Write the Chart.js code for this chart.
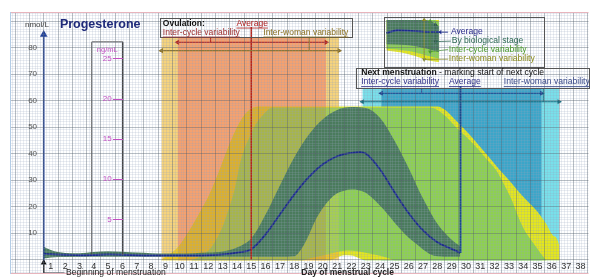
<!DOCTYPE html>
<html>
<head>
<meta charset="utf-8">
<title>Progesterone</title>
<script src="https://cdn.jsdelivr.net/npm/chart.js"></script>
<style>
  html, body { margin: 0; padding: 0; background: #fff; }
  #wrap { width: 593px; height: 279px; position: relative; }
</style>
</head>
<body>
<div id="wrap"><canvas id="chart"></canvas></div>
<script>
// ---- data: x = day of cycle, y = progesterone in nmol/L ----
const days = [];
for (let d = 1; d <= 38; d++) days.push(d);
const nmolTicks = [10, 20, 30, 40, 50, 60, 70, 80];
const ngTicks = [5, 10, 15, 20, 25];
const ngFactor = 3.03;

const average = [[0.5,2.2],[1,2],[2,1.8],[3,1.6],[4,1.7],[5,1.9],[6,1.8],[7,1.6],[8,1.5],[9,1.5],[10,1.5],[11,1.5],[12,1.6],[13,1.9],[14,2.6],[15,3.9],[16,9.5],[17,17],[18,24.5],[19,31],[20,36],[21,39],[22,40.3],[22.6,40.6],[23,40],[24,34],[25,25.5],[26,17.5],[27,11],[28,6.5],[29,4],[29.6,2.5]];

const bioUpper = [[0.5,4.8],[1,3.6],[1.5,2.8],[2,2.5],[3,2.4],[4,2.8],[5,3.1],[6,2.9],[7,2.6],[8,2.4],[9,2.3],[10,2.3],[11,2.4],[12,2.6],[13,3],[14,4.5],[15,8],[16,17],[17,28],[18,38.5],[19,47],[20,53],[21,56.5],[22,57.6],[23,57.2],[24,53.5],[25,45],[26,34.5],[27,23],[28,13.5],[29,7.5],[29.6,5]];
const bioLower = [[0.5,0.4],[1,0.8],[2,0.9],[5,1],[10,1],[14,1],[17,1],[18,1.2],[18.5,4],[19,9],[19.5,15],[20,19.5],[20.5,22.8],[21,25],[21.5,26],[22,26.4],[22.5,26.2],[23,25.2],[23.5,23],[24,20.3],[24.5,17.3],[25,14],[25.5,11],[26,8.2],[26.5,6],[27,3.8],[27.5,2],[28,1.2],[29,1],[29.6,1]];

const cycleUpper = [[10.8,-0.3],[11.3,0.8],[11.7,2],[12.2,4.5],[12.6,8],[13,12.5],[13.3,17],[13.6,22],[13.9,28],[14.2,36],[14.5,41.5],[14.9,46.5],[15.3,51],[15.8,54.5],[16.5,57.4],[27.5,57.4],[28,56.5],[28.6,54],[29.3,50],[30,46.5],[30.9,41.4],[31.5,37.5],[32.1,33.8],[32.7,28],[33.2,22.5],[33.7,15.5],[34.1,11],[34.6,7],[35.2,2.5],[35.6,-0.3]];
const cycleLower = [[10.8,-0.3],[18.5,-0.3],[19,0.3],[20,1.5],[21,2.8],[21.7,3.4],[22.5,3],[23.5,2],[24.5,0.7],[25,-0.3],[35.6,-0.3]];

const womanUpper = [[8.7,-0.3],[9,1],[9.5,2.8],[10,5.5],[10.5,9.5],[11,14],[11.5,18.8],[12,23.8],[12.5,30],[13,37],[13.5,44],[14,50],[14.5,54.5],[15,57],[15.6,57.8],[28,57.8],[28.6,56.3],[29.3,52.5],[30.2,47.5],[31,42.5],[31.6,38.7],[32.3,34.2],[33,30],[33.7,25.5],[34.3,22],[35,18],[35.6,13.5],[36.1,9],[36.5,5.5],[36.55,-0.3]];
const womanLower = [[8.7,-0.3],[20.5,-0.3],[21,0.8],[21.5,1.6],[22,1.5],[22.5,0.6],[23,-0.3],[36.55,-0.3]];

const ovulationAverage = 15.0;
const ovulationCycle = [9.85, 20.23];
const ovulationWoman = [8.72, 21.14];
const mensAverage = 29.62;
const mensCycle = [24.08, 35.29];
const mensWoman = [22.76, 36.5];

// small illustration inside the legend frame
const miniWomanTop = [[24.44,90.5],[28.13,90.5]];
const miniWomanLow = [[24.44,79],[25.5,78.2],[26.5,76.8],[27.3,75.3],[28.13,74.6]];
const miniCycleTop = [[24.44,90.5],[27.8,90.5],[28.13,89.6]];
const miniCycleLow = [[24.44,79.6],[25.5,79.1],[26.5,78.2],[27.3,77],[28.13,75.8]];
const miniBioTop = [[24.44,90.5],[27.1,90.5],[27.7,89.6],[28.13,88]];
const miniBioLow = [[24.44,81.3],[25.5,81.1],[26.5,80.6],[27.3,79.6],[28.13,78.3]];
const miniAverage = [[24.44,85.6],[25.2,86.6],[26,86.5],[27,86.1],[28.13,86]];

// ---- layout ----
const X_MIN = -1.855, X_MAX = 38.56, Y_MIN = -5.48, Y_MAX = 93.5;
const BASE = -0.3;
const OV_TOP = 83.7, MENS_TOP = 64.4;
const FONT = "'Liberation Sans', Arial, sans-serif";
Chart.defaults.font.family = FONT;

const C = {
  yellow: '#e4e71c', lime: '#8ed14f', dark: '#4a7b5c',
  orange: '#f5a16e', light: '#f6d37c', blue: '#3ba6c9', cyan: '#78e0ea',
  navy: '#1b2a8c', red: '#b3261e', olive: '#8a6c1a', teal: '#1b6e80', mensNavy: '#1c3f8a'
};

const pts = a => a.map(([x, y]) => ({x, y}));
function curve(data, extra) {
  return Object.assign({data: pts(data), borderWidth: 0, pointRadius: 0, fill: false,
    cubicInterpolationMode: 'monotone'}, extra || {});
}
function band(range, top, color, blend) {
  return {data: pts([[range[0], top], [range[1], top]]), borderWidth: 0, pointRadius: 0,
    fill: {value: BASE}, backgroundColor: color, blend};
}
function path(data, color, width, heads) {
  const n = data.length;
  const h = heads || {};
  return {data: pts(data), borderColor: color, borderWidth: width, fill: false, tension: 0,
    pointStyle: 'triangle', pointBackgroundColor: color, pointBorderWidth: 0,
    pointRadius: data.map((_, i) => i === 0 ? (h.start || 0) : i === n - 1 ? (h.end || 0) : 0),
    pointRotation: data.map((_, i) => i === 0 ? (h.startRot || 0) : (h.endRot || 0))};
}
const hArrow = (x0, x1, yv, color) => path([[x0, yv], [x1, yv]], color, 1.2, {start: 3, end: 3, startRot: -90, endRot: 90});
const vArrow = (xv, y0, y1, color) => path([[xv, y0], [xv, y1]], color, 1, {start: 2.5, end: 2.5, startRot: 180, endRot: 0});

const layers = [
  curve(womanUpper, {backgroundColor: C.yellow, fill: '+1'}), curve(womanLower),
  band(ovulationWoman, OV_TOP, 'rgba(245,130,30,0.3)', 'source-atop'),
  curve(cycleUpper, {backgroundColor: C.lime, fill: '+1'}), curve(cycleLower),
  band(ovulationWoman, OV_TOP, 'rgba(250,200,80,0.22)', 'source-atop'),
  band(ovulationCycle, OV_TOP, 'rgba(170,100,50,0.24)', 'source-atop'),
  curve(bioUpper, {backgroundColor: C.dark, fill: '+1'}), curve(bioLower),
  band(ovulationCycle, OV_TOP, C.orange, 'destination-over'),
  band(ovulationWoman, OV_TOP, C.light, 'destination-over'),
  band(mensCycle, MENS_TOP, C.blue, 'destination-over'),
  band(mensWoman, MENS_TOP, C.cyan, 'destination-over'),
  // legend illustration
  curve(miniWomanTop, {backgroundColor: C.yellow, fill: '+1'}), curve(miniWomanLow),
  curve(miniCycleTop, {backgroundColor: C.lime, fill: '+1'}), curve(miniCycleLow),
  curve(miniBioTop, {backgroundColor: C.dark, fill: '+1'}), curve(miniBioLow),
  curve(miniAverage, {borderColor: C.navy, borderWidth: 1.8}),
  vArrow(27.08, 75.6, 90.6, '#8a8a1a'),
  vArrow(27.5, 78.5, 90.0, '#4a9a2a'),
  vArrow(27.87, 82.3, 88.8, '#2f5a45'),
  path([[28.75, 85.9], [28.2, 85.9]], C.navy, 1, {end: 2.5, endRot: -90}),
  path([[27.87, 82.3], [28.95, 82.5]], '#2f6a55', 0.8),
  path([[27.5, 78.5], [28.75, 79.3]], '#4a9a2a', 0.8),
  path([[27.08, 75.6], [28.75, 75.7]], '#8a8a1a', 0.8),
  // main lines
  curve(average, {borderColor: C.navy, borderWidth: 1.8}),
  path([[ovulationAverage, 0], [ovulationAverage, 87.8]], C.red, 1.5),
  path([[mensAverage, 2.5], [mensAverage, 65.5]], '#1a4a8c', 2),
  hArrow(ovulationCycle[0], ovulationCycle[1], 82.05, C.red),
  hArrow(ovulationWoman[0], ovulationWoman[1], 78.9, C.olive),
  path([[12.16, 82.05], [12.16, 84.1]], C.red, 1),
  path([[19.05, 78.9], [19.05, 84.1]], C.olive, 1),
  hArrow(mensCycle[0], mensCycle[1], 62.8, C.mensNavy),
  hArrow(mensWoman[0], mensWoman[1], 59.6, C.teal),
  path([[26.9, 62.8], [26.9, 64.8]], C.mensNavy, 1),
  path([[35.4, 59.6], [35.4, 64.8]], C.teal, 1),
  // ng/mL frame, y axis with arrow, menstruation marker
  path([[3.86, 1.8], [3.86, 82.2], [6.02, 82.2], [6.02, 1.8]], '#444', 1),
  path([[0.5, -1], [0.5, 85]], '#1f3f99', 1.6, {end: 4.5}),
  path([[0.5, -1.2], [0.5, -5.1], [1.95, -5.1]], '#111', 0.9, {start: 3.5})
];
layers.forEach((ds, i) => { ds.order = layers.length - i; ds.xAxisID = 'x'; ds.yAxisID = 'y'; });

// ---- annotations ----
const frames = [
  {x0: 8.6, x1: 22.0, y0: 84.1, y1: 91.2},
  {x0: 24.28, x1: 35.43, y0: 72.7, y1: 91.6},
  {x0: 22.35, x1: 38.6, y0: 64.8, y1: 72.3}
];
const notes = [
  {x: -0.81, y: 88.6, size: 8, color: '#444', runs: [{text: 'nmol/L'}]},
  {x: 1.63, y: 88.6, size: 12.5, color: '#1f2a7a', runs: [{text: 'Progesterone', bold: true}]},
  {x: 4.94, y: 79.1, size: 7.5, color: '#c24fc2', align: 'center', runs: [{text: 'ng/mL'}]},
  {x: 8.82, y: 89.2, size: 8.5, color: '#111', runs: [{text: 'Ovulation:', bold: true}]},
  {x: 13.96, y: 89.2, size: 8.5, color: '#b02020', runs: [{text: 'Average', underline: true}]},
  {x: 8.82, y: 85.8, size: 8.5, color: '#a03030', runs: [{text: 'Inter-cycle variability', underline: true}]},
  {x: 15.84, y: 85.8, size: 8.5, color: '#8a7020', runs: [{text: 'Inter-woman variability', underline: true}]},
  {x: 28.95, y: 85.9, size: 8.6, color: '#2a2a8a', runs: [{text: 'Average'}]},
  {x: 29.0, y: 82.5, size: 8.6, color: '#2f6a55', runs: [{text: 'By biological stage'}]},
  {x: 28.8, y: 79.3, size: 8.6, color: '#4a9a2a', runs: [{text: 'Inter-cycle variability'}]},
  {x: 28.8, y: 75.7, size: 8.6, color: '#8a8a1a', runs: [{text: 'Inter-woman variability'}]},
  {x: 22.68, y: 70.5, size: 8.6, color: '#111', runs: [{text: 'Next menstruation', bold: true}, {text: ' - marking start of next cycle'}]},
  {x: 22.68, y: 67.1, size: 8.6, color: '#33338a', runs: [{text: 'Inter-cycle variability', underline: true}]},
  {x: 28.81, y: 67.1, size: 8.6, color: '#33338a', runs: [{text: 'Average', underline: true}]},
  {x: 32.64, y: 67.1, size: 8.6, color: '#3a4a8a', runs: [{text: 'Inter-woman variability', underline: true}]},
  {x: 2.05, y: -5.1, size: 8.6, color: '#222', runs: [{text: 'Beginning of menstruation'}]},
  {x: 18.5, y: -5.1, size: 8.5, color: '#222', runs: [{text: 'Day of menstrual cycle', bold: true}]}
];

// ---- plugins ----
function drawSequence(chart) { return chart.getSortedVisibleDatasetMetas().slice().reverse(); }
const blendPlugin = {
  id: 'blend',
  beforeDatasetsDraw(chart) {
    const seq = drawSequence(chart);
    chart.ctx.globalCompositeOperation = (seq.length && chart.data.datasets[seq[0].index].blend) || 'source-over';
  },
  afterDatasetDraw(chart, args) {
    const seq = drawSequence(chart);
    const i = seq.findIndex(m => m.index === args.index);
    const next = seq[i + 1];
    chart.ctx.globalCompositeOperation = (next && chart.data.datasets[next.index].blend) || 'source-over';
  },
  afterDatasetsDraw(chart) { chart.ctx.globalCompositeOperation = 'source-over'; }
};

const notesPlugin = {
  id: 'notes',
  afterDraw(chart) {
    const {ctx, chartArea: a} = chart;
    const sx = chart.scales.x, sy = chart.scales.y;
    const px = v => sx.getPixelForValue(v), py = v => sy.getPixelForValue(v);
    ctx.save();
    ctx.lineWidth = 1;
    ctx.strokeStyle = '#e8b4bc';
    ctx.beginPath();
    ctx.moveTo(a.left, a.top + 0.5); ctx.lineTo(a.right, a.top + 0.5);
    ctx.moveTo(a.left, a.bottom - 0.5); ctx.lineTo(a.right, a.bottom - 0.5);
    ctx.stroke();
    ctx.strokeStyle = '#b4cde6';
    ctx.beginPath(); ctx.moveTo(a.left + 0.5, a.top); ctx.lineTo(a.left + 0.5, a.bottom); ctx.stroke();

    ctx.strokeStyle = '#555';
    frames.forEach(f => {
      const l = Math.round(px(f.x0)) + 0.5, t = Math.round(py(f.y1)) + 0.5;
      ctx.strokeRect(l, t, Math.round(px(f.x1) - px(f.x0)), Math.round(py(f.y0) - py(f.y1)));
    });
    ctx.textBaseline = 'middle';
    ctx.textAlign = 'left';
    notes.forEach(n => {
      let cx = px(n.x);
      const cy = py(n.y);
      if (n.align === 'center') {
        let total = 0;
        n.runs.forEach(r => { ctx.font = (r.bold ? 'bold ' : '') + n.size + 'px ' + FONT; total += ctx.measureText(r.text).width; });
        cx -= total / 2;
      }
      n.runs.forEach(r => {
        ctx.font = (r.bold ? 'bold ' : '') + n.size + 'px ' + FONT;
        ctx.fillStyle = n.color;
        const w = ctx.measureText(r.text).width;
        ctx.fillText(r.text, cx, cy);
        if (r.underline) ctx.fillRect(cx, cy + n.size * 0.5, w, 0.8);
        cx += w;
      });
    });
    ctx.restore();
  }
};

// ---- grid ticks ----
const majorX = []; for (let d = -2; d <= 38; d++) majorX.push(d + 0.5);
const fineX = []; for (let k = -11; k <= 190; k++) fineX.push(+(0.5 + k * 0.2).toFixed(2));
const majorY = []; for (let v = 0; v <= 90; v += 10) majorY.push(v);
const fineY = []; for (let v = -5; v <= 93; v++) fineY.push(v);
const setTicks = values => axis => { axis.ticks = values.map(v => ({value: v})); };
const gridAxis = (axis, values, color, z) => ({
  type: 'linear', axis, min: axis === 'x' ? X_MIN : Y_MIN, max: axis === 'x' ? X_MAX : Y_MAX,
  position: axis === 'x' ? {y: 0} : {x: 0.5},
  afterBuildTicks: setTicks(values),
  grid: {color, z, drawTicks: false, lineWidth: 1},
  border: {display: false}, ticks: {display: false}
});

new Chart(document.getElementById('chart'), {
  type: 'line',
  data: {datasets: layers},
  plugins: [blendPlugin, notesPlugin],
  options: {
    responsive: true, maintainAspectRatio: false, animation: false, events: [],
    layout: {padding: {left: 10, top: 12, right: 3, bottom: 5}},
    plugins: {legend: {display: false}, tooltip: {enabled: false}},
    scales: {
      x: {type: 'linear', min: X_MIN, max: X_MAX, position: {y: -0.5},
        afterBuildTicks: setTicks(days),
        grid: {display: false, drawTicks: false}, border: {display: false},
        ticks: {z: 3, padding: 0, color: '#333', font: {size: 9}, maxRotation: 0, autoSkip: false}},
      y: {type: 'linear', min: Y_MIN, max: Y_MAX, position: {x: 0.5},
        afterBuildTicks: setTicks(nmolTicks),
        grid: {display: false, drawTicks: false},
        border: {display: false},
        ticks: {z: 3, padding: 0, color: '#555', font: {size: 8}, callback: v => v + '   '}},
      yNg: {type: 'linear', axis: 'y', min: Y_MIN / ngFactor, max: Y_MAX / ngFactor, position: {x: 6.02},
        afterBuildTicks: setTicks(ngTicks),
        grid: {display: true, drawOnChartArea: false, drawTicks: true, tickLength: 10, color: '#c24fc2', z: 3},
        border: {display: false},
        ticks: {z: 3, padding: 0, color: '#c24fc2', font: {size: 8}, callback: v => v + '     '}},
      xFine: gridAxis('x', fineX, 'rgba(150,165,190,0.2)', 1),
      yFine: gridAxis('y', fineY, 'rgba(150,165,190,0.2)', 1),
      xMajor: gridAxis('x', majorX, 'rgba(70,80,90,0.3)', 2),
      yMajor: gridAxis('y', majorY, 'rgba(70,80,90,0.3)', 2)
    }
  }
});
</script>
</body>
</html>
